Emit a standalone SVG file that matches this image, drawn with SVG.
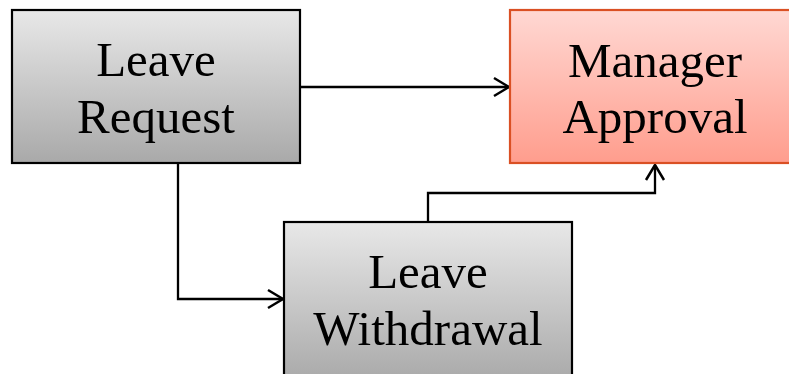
<svg xmlns="http://www.w3.org/2000/svg" width="789" height="374" viewBox="0 0 789 374">
<defs>
<linearGradient id="gGray" x1="0" y1="0" x2="0" y2="1">
<stop offset="0" stop-color="#E8E8E8"/>
<stop offset="1" stop-color="#A9A9A9"/>
</linearGradient>
<linearGradient id="gRed" x1="0" y1="0" x2="0" y2="1">
<stop offset="0" stop-color="#FFD8D3"/>
<stop offset="1" stop-color="#FF9D8D"/>
</linearGradient>
<marker id="arr" markerWidth="20" markerHeight="22" refX="17" refY="11" orient="auto" markerUnits="userSpaceOnUse">
<path d="M2,2 L17,11 L2,20" fill="none" stroke="#000" stroke-width="2.5"/>
</marker>
<style>
.box{stroke:#000;stroke-width:2.2}
.red{stroke:#DA5024;stroke-width:2.2}
.t{font-family:"Liberation Serif","DejaVu Serif",serif;font-size:49px;fill:#000;text-anchor:middle}
.c{fill:none;stroke:#000;stroke-width:2.3}
</style>
</defs>
<g id="connectors">
<path class="c" d="M300,87 H509" marker-end="url(#arr)"/>
<path class="c" d="M178,163 V299 H283" marker-end="url(#arr)"/>
<path class="c" d="M428,222 V193 H655 V165" marker-end="url(#arr)"/>
</g>
<g id="leave-request">
<rect class="box" x="12" y="10" width="288" height="153" fill="url(#gGray)"/>
<text class="t" x="156" y="76">Leave</text>
<text class="t" x="156" y="133">Request</text>
</g>
<g id="manager-approval">
<rect class="red" x="510" y="10" width="290" height="153" fill="url(#gRed)"/>
<text class="t" x="655" y="77">Manager</text>
<text class="t" x="655" y="133">Approval</text>
</g>
<g id="leave-withdrawal">
<rect class="box" x="284" y="222" width="288" height="160" fill="url(#gGray)"/>
<text class="t" x="428" y="288">Leave</text>
<text class="t" x="428" y="345">Withdrawal</text>
</g>
</svg>
